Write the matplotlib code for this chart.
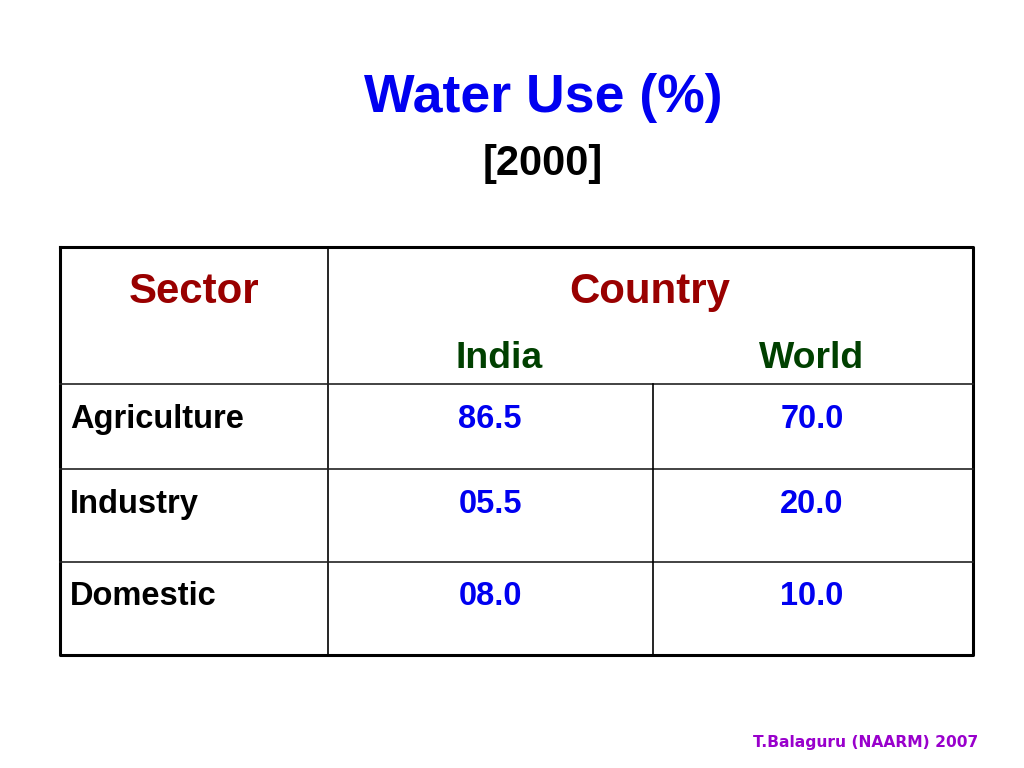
import matplotlib
matplotlib.use("Agg")
import matplotlib.pyplot as plt
from matplotlib import font_manager

sectors = ["Agriculture", "Industry", "Domestic"]
countries = ["India", "World"]
india = [86.5, 5.5, 8.0]
world = [70.0, 20.0, 10.0]
title = "Water Use (%)"
subtitle = "[2000]"
footer = "T.Balaguru (NAARM) 2007"

names = {f.name for f in font_manager.fontManager.ttflist}
if "Liberation Sans Narrow" in names:
    main_font, k = "Liberation Sans Narrow", 1.0
else:
    main_font, k = "Liberation Sans", 0.84
fam = [main_font, "DejaVu Sans"]

fig = plt.figure(figsize=(10.24, 7.68), dpi=100)
ax = fig.add_axes([0, 0, 1, 1])
ax.set_xlim(0, 1024)
ax.set_ylim(768, 0)
ax.axis("off")

ax.text(543, 112, title, ha="center", va="baseline", fontsize=46 * k, color="#0000F0",
        family=fam, fontweight="bold")
ax.text(543, 175, subtitle, ha="center", va="baseline", fontsize=31 if k == 1.0 else 30,
        color="black", family=fam, fontweight="bold")

# table frame
L, R, T, B = 60, 973, 247, 655
ax.plot([L, R, R, L, L], [T, T, B, B, T], color="black", lw=2.2, solid_capstyle="projecting")
ax.plot([328, 328], [T, B], color="black", lw=1.2)
row_lines = [384, 469, 562]
for y in row_lines:
    ax.plot([L, R], [y, y], color="#222222", lw=1.2)
ax.plot([653, 653], [row_lines[0], B], color="black", lw=1.2)

red = "#990000"
green = "#004000"
blue = "#0000F0"
ax.text(194, 303, "Sector", ha="center", va="baseline", fontsize=36 * k, color=red,
        family=fam, fontweight="bold")
ax.text(650, 303, "Country", ha="center", va="baseline", fontsize=36 * k, color=red,
        family=fam, fontweight="bold")
col_x = [499, 812]
for cx, c in zip(col_x, countries):
    ax.text(cx, 368, c, ha="center", va="baseline", fontsize=32 * k, color=green,
            family=fam, fontweight="bold")

row_y = [428, 513, 605]
val_x = [490, 812]
for y, s, a, b in zip(row_y, sectors, india, world):
    ax.text(70, y, s, ha="left", va="baseline", fontsize=28 * k, color="black",
            family=fam, fontweight="bold")
    ax.text(val_x[0], y, f"{a:04.1f}", ha="center", va="baseline", fontsize=28 * k, color=blue,
            family=fam, fontweight="bold")
    ax.text(val_x[1], y, f"{b:04.1f}", ha="center", va="baseline", fontsize=28 * k, color=blue,
            family=fam, fontweight="bold")

ax.text(978, 747, footer, ha="right", va="baseline", fontsize=11.2, color="#9900CC",
        family="DejaVu Sans", fontweight="bold")

fig.savefig("out.png", dpi=100)
